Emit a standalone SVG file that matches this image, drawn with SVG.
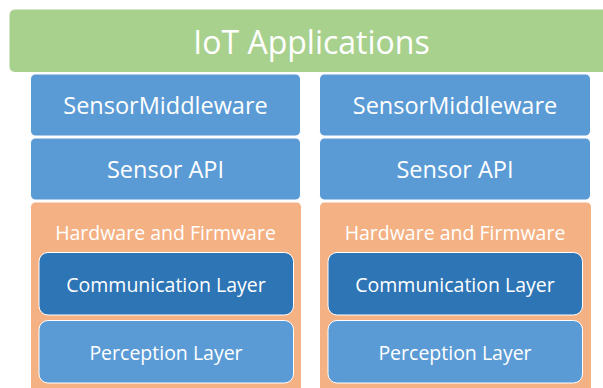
<svg xmlns="http://www.w3.org/2000/svg" width="603" height="388" viewBox="0 0 603 388">
  <style>
    .box { stroke: #ffffff; stroke-width: 1; }
    .app { fill: #a9d18e; }
    .blue { fill: #5b9bd5; }
    .hw { fill: #f4b183; }
    .comm { fill: #2e75b6; }
    text { font-family: "Open Sans", "Noto Sans", "Liberation Sans", sans-serif; fill: #ffffff; text-anchor: middle; dominant-baseline: central; }
    .t-app { font-size: 32px; }
    .t-mid { font-size: 23.5px; }
    .t-hw { font-size: 19.5px; }
    .t-in { font-size: 19.5px; }
  </style>
  <rect width="603" height="388" fill="#ffffff"/>

  <!-- top application layer -->
  <g id="iot-applications">
    <rect class="box app" x="9" y="9" width="610" height="63.5" rx="6"/>
    <text class="t-app" x="311.5" y="41">IoT Applications</text>
  </g>

  <!-- left stack -->
  <g id="left-middleware">
    <rect class="box blue" x="30.5" y="74" width="270" height="62" rx="5"/>
    <text class="t-mid" x="165.5" y="105">SensorMiddleware</text>
  </g>
  <g id="left-sensor-api">
    <rect class="box blue" x="30.5" y="138" width="270" height="62" rx="5"/>
    <text class="t-mid" x="165.5" y="169">Sensor API</text>
  </g>
  <g id="left-hardware">
    <rect class="box hw" x="30.5" y="202" width="271" height="200" rx="5"/>
    <text class="t-hw" x="165.5" y="232">Hardware and Firmware</text>
  </g>
  <g id="left-communication">
    <rect class="box comm" x="39" y="252.5" width="254.5" height="62.5" rx="9"/>
    <text class="t-in" x="166" y="284">Communication Layer</text>
  </g>
  <g id="left-perception">
    <rect class="box blue" x="39" y="320.5" width="254.5" height="62.5" rx="9"/>
    <text class="t-in" x="166" y="352">Perception Layer</text>
  </g>

  <!-- right stack -->
  <g id="right-middleware">
    <rect class="box blue" x="319.5" y="74" width="271" height="62" rx="5"/>
    <text class="t-mid" x="455" y="105">SensorMiddleware</text>
  </g>
  <g id="right-sensor-api">
    <rect class="box blue" x="319.5" y="138" width="271" height="62" rx="5"/>
    <text class="t-mid" x="455" y="169">Sensor API</text>
  </g>
  <g id="right-hardware">
    <rect class="box hw" x="319.5" y="202" width="272" height="200" rx="5"/>
    <text class="t-hw" x="455" y="232">Hardware and Firmware</text>
  </g>
  <g id="right-communication">
    <rect class="box comm" x="328" y="252.5" width="254.5" height="62.5" rx="9"/>
    <text class="t-in" x="455" y="284">Communication Layer</text>
  </g>
  <g id="right-perception">
    <rect class="box blue" x="328" y="320.5" width="254.5" height="62.5" rx="9"/>
    <text class="t-in" x="455" y="352">Perception Layer</text>
  </g>

  <!-- no connectors in this stack diagram -->
  <g id="connectors"/>
</svg>
